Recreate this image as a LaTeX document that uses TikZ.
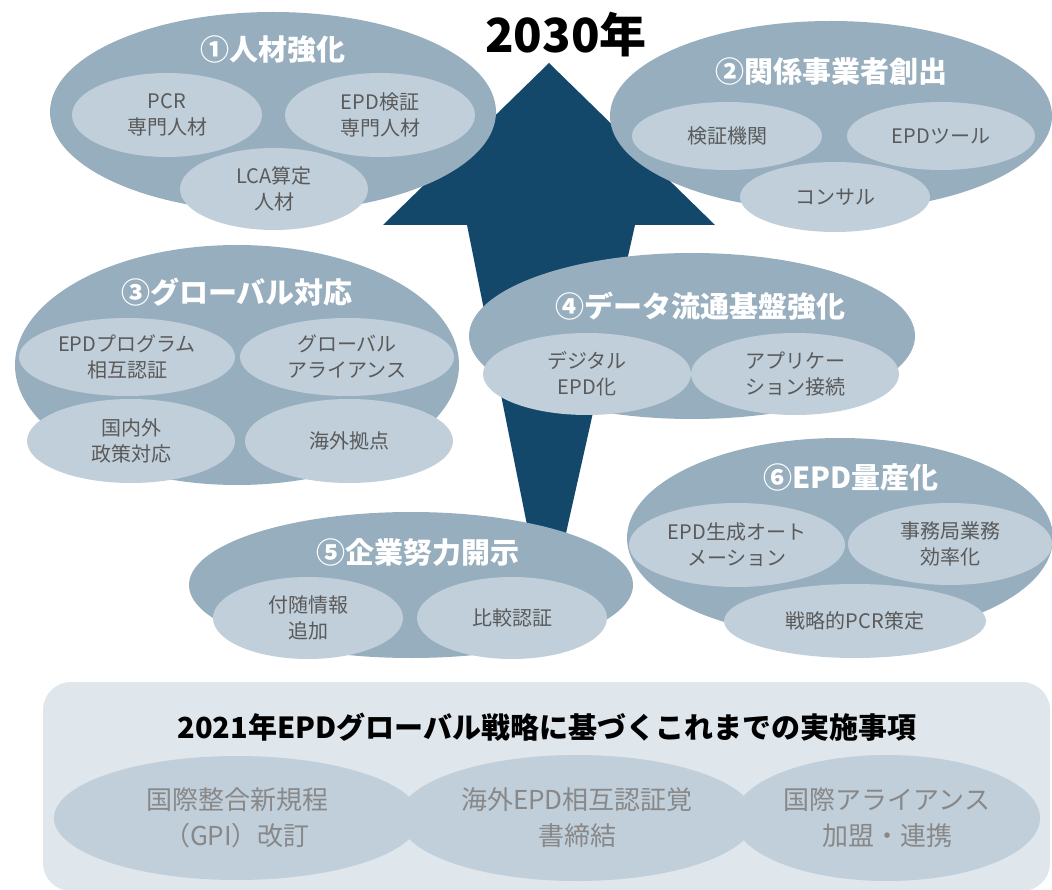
\documentclass[tikz,border=0pt]{standalone}
\usepackage{fontspec}
\setmainfont{Noto Sans CJK JP}
\usetikzlibrary{shapes.geometric}
\definecolor{outerc}{HTML}{97AEBF}
\definecolor{innerc}{HTML}{C0CFDA}
\definecolor{boxc}{HTML}{DFE6EC}
\definecolor{arrowc}{HTML}{13486B}
\definecolor{txtc}{HTML}{5A5A5A}
\definecolor{btxtc}{HTML}{888888}
\begin{document}
\begin{tikzpicture}[x=1pt,y=-1pt,
 outer/.style={ellipse, fill=outerc, inner sep=0pt},
 inner/.style={ellipse, fill=innerc, inner sep=0pt, align=center, text=txtc, font=\fontsize{20}{26}\selectfont},
 title/.style={text=white, font=\fontsize{29}{34}\selectfont\bfseries, inner sep=0pt},
 bottomel/.style={ellipse, fill=innerc, inner sep=0pt, align=center, text=btxtc, font=\fontsize{26}{36}\selectfont},
]
\useasboundingbox (0,0) rectangle (1052,890);
% arrow (behind everything)
\fill[arrowc] (383,225) -- (549,63) -- (715,225) -- (635,225) -- (560,560) -- (534,560) -- (467,225) -- cycle;
\node[font=\fontsize{47}{50}\selectfont\bfseries, inner sep=0pt] (year) at (566,35) {2030年};

% group 1
\node[outer, minimum width=446pt, minimum height=200pt] (g1) at (273,112) {};
\node[inner, minimum width=190pt, minimum height=84pt] (g1a) at (167,115) {PCR\\専門人材};
\node[inner, minimum width=190pt, minimum height=84pt] (g1b) at (380,115) {EPD検証\\専門人材};
\node[inner, minimum width=188pt, minimum height=82pt] (g1c) at (274,189) {LCA算定\\人材};
\node[title] (t1) at (273,50) {①人材強化};

% group 2
\node[outer, minimum width=442pt, minimum height=190pt] (g2) at (831,116) {};
\node[inner, minimum width=190pt, minimum height=68pt] (g2a) at (727,136) {検証機関};
\node[inner, minimum width=188pt, minimum height=68pt] (g2b) at (941,136) {EPDツール};
\node[inner, minimum width=190pt, minimum height=70pt] (g2c) at (835,197) {コンサル};
\node[title] (t2) at (831,72) {②関係事業者創出};

% group 3
\node[outer, minimum width=444pt, minimum height=240pt] (g3) at (237,365) {};
\node[inner, minimum width=216pt, minimum height=78pt] (g3a) at (127,357) {EPDプログラム\\相互認証};
\node[inner, minimum width=214pt, minimum height=78pt] (g3b) at (347,357) {グローバル\\アライアンス};
\node[inner, minimum width=208pt, minimum height=84pt] (g3c) at (131,441) {国内外\\政策対応};
\node[inner, minimum width=208pt, minimum height=84pt] (g3d) at (349,441) {海外拠点};
\node[title] (t3) at (237,292) {③グローバル対応};

% group 4
\node[outer, minimum width=446pt, minimum height=166pt] (g4) at (692,336) {};
\node[inner, minimum width=208pt, minimum height=82pt] (g4a) at (587,374) {デジタル\\EPD化};
\node[inner, minimum width=208pt, minimum height=82pt] (g4b) at (795,374) {アプリケー\\ション接続};
\node[title] (t4) at (700,306) {④データ流通基盤強化};

% group 6
\node[outer, minimum width=426pt, minimum height=200pt] (g6) at (840,538) {};
\node[inner, minimum width=216pt, minimum height=84pt] (g6a) at (737,545) {EPD生成オート\\メーション};
\node[inner, minimum width=204pt, minimum height=82pt] (g6b) at (950,544) {事務局業務\\効率化};
\node[inner, minimum width=262pt, minimum height=74pt] (g6c) at (855,621) {戦略的PCR策定};
\node[title] (t6) at (851,477) {⑥EPD量産化};

% group 5
\node[outer, minimum width=444pt, minimum height=146pt] (g5) at (411,585) {};
\node[inner, minimum width=190pt, minimum height=82pt] (g5a) at (308,618) {付随情報\\追加};
\node[inner, minimum width=190pt, minimum height=82pt] (g5b) at (512,618) {比較認証};
\node[title] (t5) at (418,552) {⑤企業努力開示};

% bottom box
\fill[boxc, rounded corners=28pt] (43,682) rectangle (1050,891);
\node[font=\fontsize{29}{34}\selectfont\bfseries, inner sep=0pt] (bh) at (547,727) {2021年EPDグローバル戦略に基づくこれまでの実施事項};
\node[bottomel, minimum width=366pt, minimum height=124pt] (ba) at (237,818) {国際整合新規程\\（GPI）改訂};
\node[bottomel, minimum width=356pt, minimum height=126pt] (bb) at (577,818) {海外EPD相互認証覚\\書締結};
\node[bottomel, minimum width=306pt, minimum height=126pt] (bc) at (887,818) {国際アライアンス\\加盟・連携};
\end{tikzpicture}
\end{document}
